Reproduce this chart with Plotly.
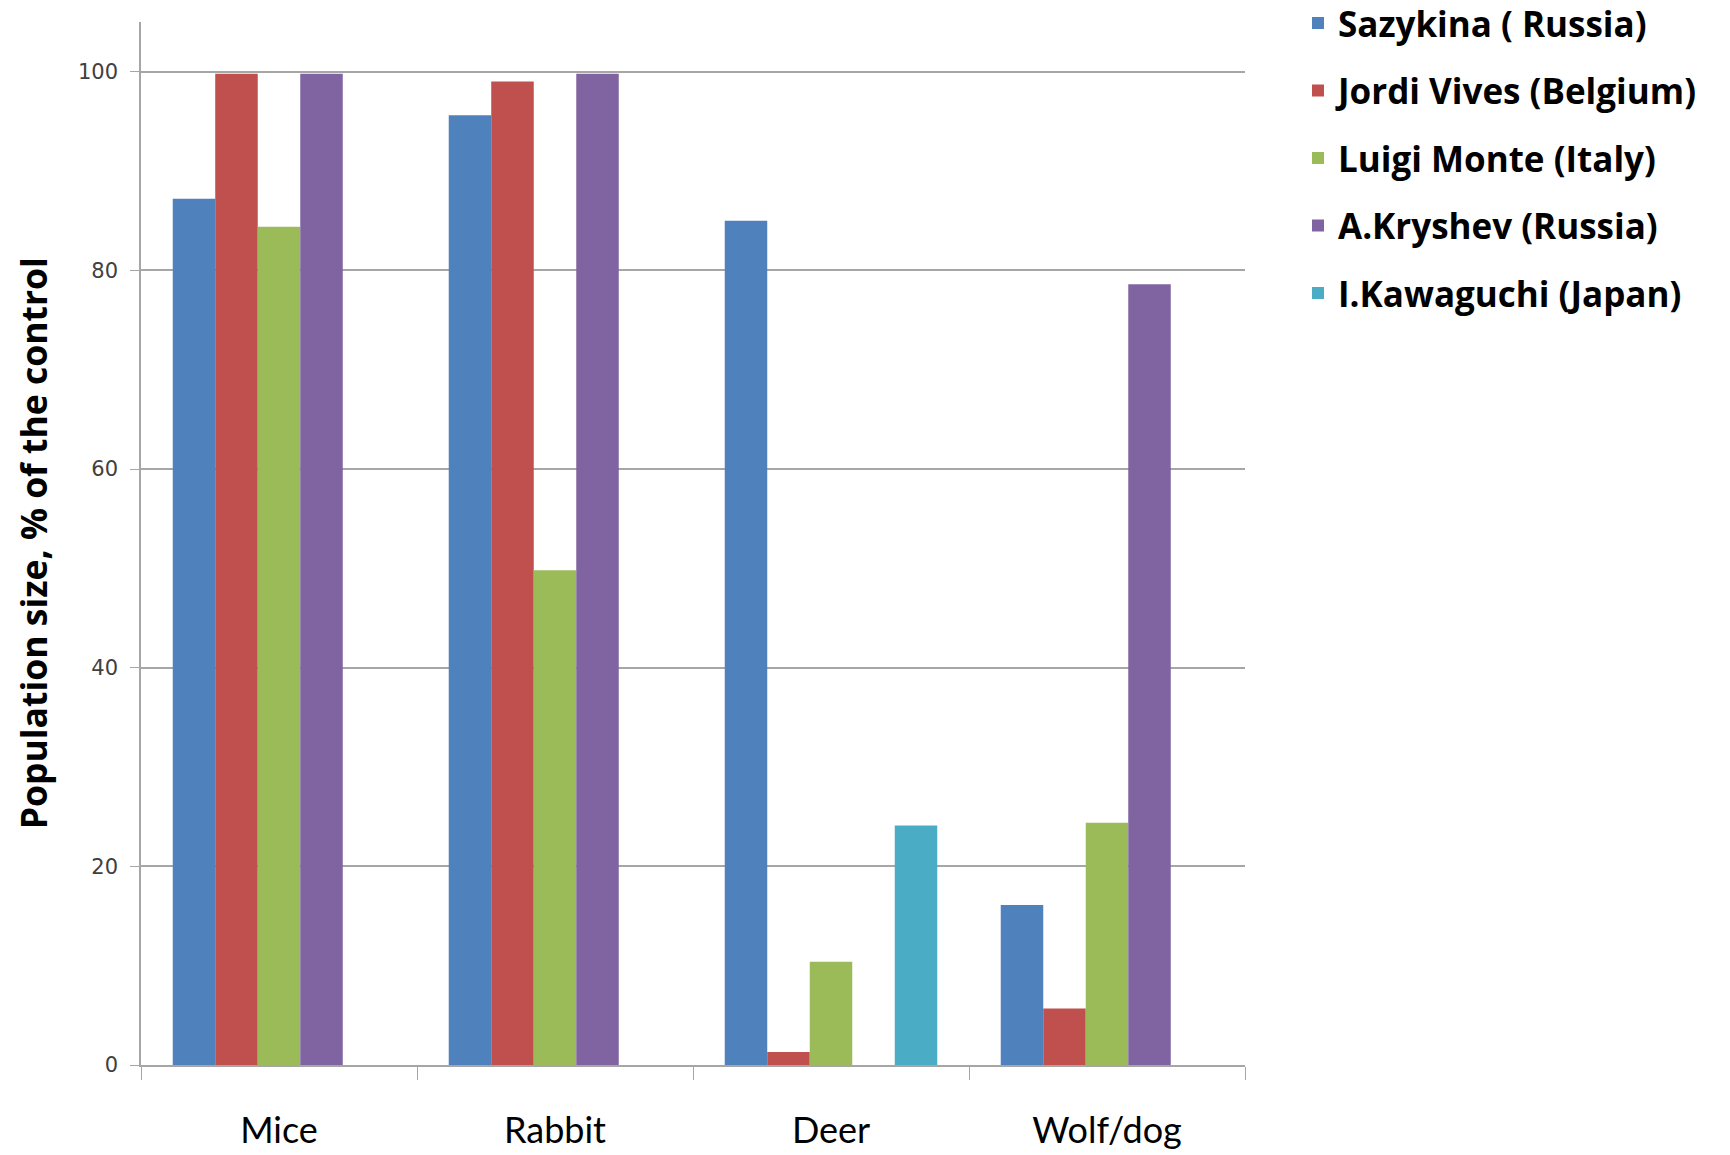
import plotly.graph_objects as go

categories = ["Mice", "Rabbit", "Deer", "Wolf/dog"]
series_names = ["Sazykina ( Russia)", "Jordi Vives (Belgium)", "Luigi Monte (Italy)",
                "A.Kryshev (Russia)", "I.Kawaguchi (Japan)"]
sazykina = [87.2, 95.6, 85.0, 16.1]
vives = [99.8, 99.0, 1.3, 5.7]
monte = [84.4, 49.8, 10.4, 24.4]
kryshev = [99.8, 99.8, None, 78.6]
kawaguchi = [None, None, 24.1, None]
colors = ["#4F81BD", "#C0504D", "#9BBB59", "#8064A2", "#4BACC6"]
y_ticks = [0, 20, 40, 60, 80, 100]
y_title = "Population size, % of the control"

values = [sazykina, vives, monte, kryshev, kawaguchi]

fig = go.Figure()
for i, (name, vals, col) in enumerate(zip(series_names, values, colors)):
    fig.add_trace(go.Bar(
        x=categories, y=vals, name=name, marker_color=col,
        marker_line_width=0, legendgroup=f"g{i}"))

fig.update_layout(
    width=1730, height=1155,
    barmode="group", bargap=0.23, bargroupgap=0,
    plot_bgcolor="white", paper_bgcolor="white",
    margin=dict(l=141, r=485, t=22, b=90, autoexpand=False),
    font=dict(family="Lato", color="black"),
    legend=dict(
        x=1.048, xanchor="left", y=1.027, yanchor="top",
        font=dict(family="Open Sans", size=35, color="black", weight="bold"),
        tracegroupgap=19, itemwidth=30,
        bgcolor="rgba(0,0,0,0)",
    ),
    showlegend=True,
)
fig.add_annotation(
    text=f"<b>{y_title}</b>", textangle=-90, showarrow=False,
    xref="paper", yref="paper", x=-0.098, y=0.5, xanchor="center", yanchor="middle",
    font=dict(family="Open Sans", size=35.5, color="black"),
)
fig.update_yaxes(
    range=[0, 105], tickvals=y_ticks, showgrid=True, gridcolor="#A6A6A6", gridwidth=1.5,
    showline=True, linecolor="#A6A6A6", linewidth=1.5,
    ticks="outside", ticklen=9, tickcolor="#A6A6A6",
    tickfont=dict(family="DejaVu Sans", size=21, color="#404040"),
    ticklabelstandoff=8,
    zeroline=False,
)
fig.update_xaxes(
    showline=True, linecolor="#A6A6A6", linewidth=1.5,
    ticks="outside", tickson="boundaries", ticklen=13, tickcolor="#A6A6A6",
    tickfont=dict(family="Lato", size=36, color="black"),
    ticklabelstandoff=33,
)

fig.write_html("out.html")
